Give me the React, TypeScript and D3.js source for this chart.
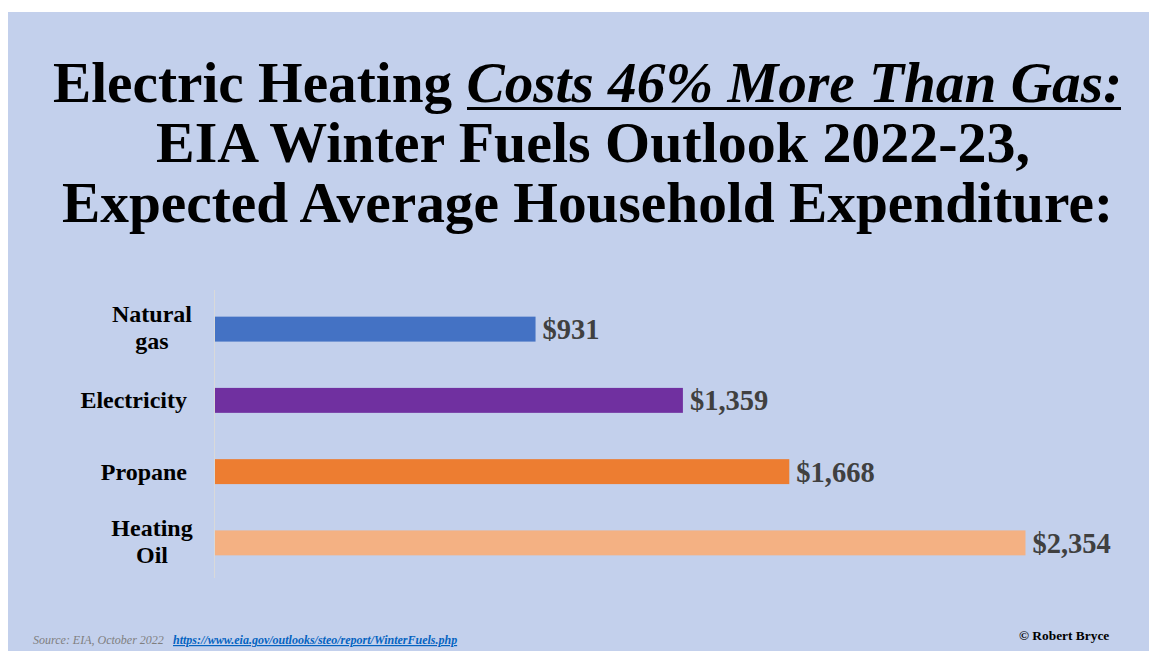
import React from "react";
import * as d3 from "d3";

const categories: string[][] = [["Natural", "gas"], ["Electricity"], ["Propane"], ["Heating", "Oil"]];
const values: number[] = [931, 1359, 1668, 2354];
const valueLabels: string[] = ["$931", "$1,359", "$1,668", "$2,354"];
const colors: string[] = ["#4472c4", "#7030a0", "#ed7d31", "#f4b183"];
const titleLine1a = "Electric Heating ";
const titleLine1b = "Costs 46% More Than Gas:";
const titleLine2 = "EIA Winter Fuels Outlook 2022-23,";
const titleLine3 = "Expected Average Household Expenditure:";
const sourceText = "Source: EIA, October 2022";
const linkText = "https://www.eia.gov/outlooks/steo/report/WinterFuels.php";
const creditText = "© Robert Bryce";

const W = 1149;
const H = 643;

export default function App() {
  const serif = "'Liberation Serif', 'Times New Roman', serif";
  // svg origin is at page (8,8)
  const x = d3.scaleLinear().domain([0, 2500]).range([207, 207 + 2500 * 0.3443]);
  const y = d3
    .scaleBand<number>()
    .domain(d3.range(values.length))
    .range([285.5, 570.5])
    .paddingInner(0.65)
    .paddingOuter(0.325);
  const bh = y.bandwidth();

  return (
    <svg width={W} height={H} style={{ display: "block" }}>
      <rect x={0} y={4} width={W} height={H - 4} fill="#c3d0ec" />
      <g fontFamily={serif} fontWeight="bold" fill="#000" fontSize={58}>
        <text x={45} y={94} textLength={1069} lengthAdjust="spacingAndGlyphs">
          {titleLine1a}
          <tspan fontStyle="italic">{titleLine1b}</tspan>
        </text>
        <text x={148} y={154} textLength={874} lengthAdjust="spacingAndGlyphs">{titleLine2}</text>
        <text x={54} y={214} textLength={1051} lengthAdjust="spacingAndGlyphs">{titleLine3}</text>
      </g>
      <line x1={459} x2={1113} y1={100.5} y2={100.5} stroke="#000" strokeWidth={3} />

      <line x1={206.5} x2={206.5} y1={282} y2={570} stroke="#d9d9d9" strokeWidth={1} />

      {values.map((v, i) => {
        const cy = (y(i) as number) + bh / 2;
        const cat = categories[i];
        return (
          <g key={i}>
            <rect x={x(0)} y={y(i)} width={x(v) - x(0)} height={bh} fill={colors[i]} />
            <text
              x={x(v) + 7}
              y={cy + 10}
              fontFamily={serif}
              fontWeight="bold"
              fontSize={28.5}
              fill="#404040"
            >
              {valueLabels[i]}
            </text>
            {cat.length === 1 ? (
              <text x={179} y={cy + 8} textAnchor="end" fontFamily={serif} fontWeight="bold" fontSize={24}>
                {cat[0]}
              </text>
            ) : (
              <text x={144} textAnchor="middle" fontFamily={serif} fontWeight="bold" fontSize={24}>
                {cat.map((c, j) => (
                  <tspan key={j} x={144} y={cy - 7 + j * 27}>
                    {c}
                  </tspan>
                ))}
              </text>
            )}
          </g>
        );
      })}

      <text x={25} y={636} fontFamily={serif} fontStyle="italic" fontSize={12} fill="#7f7f7f">
        {sourceText}
      </text>
      <text
        x={165}
        y={636}
        fontFamily={serif}
        fontStyle="italic"
        fontWeight="bold"
        fontSize={12}
        fill="#0563c1"
        textDecoration="underline"
      >
        {linkText}
      </text>
      <text x={1011} y={632} fontFamily={serif} fontWeight="bold" fontSize={13.4} fill="#000">
        {creditText}
      </text>
    </svg>
  );
}
